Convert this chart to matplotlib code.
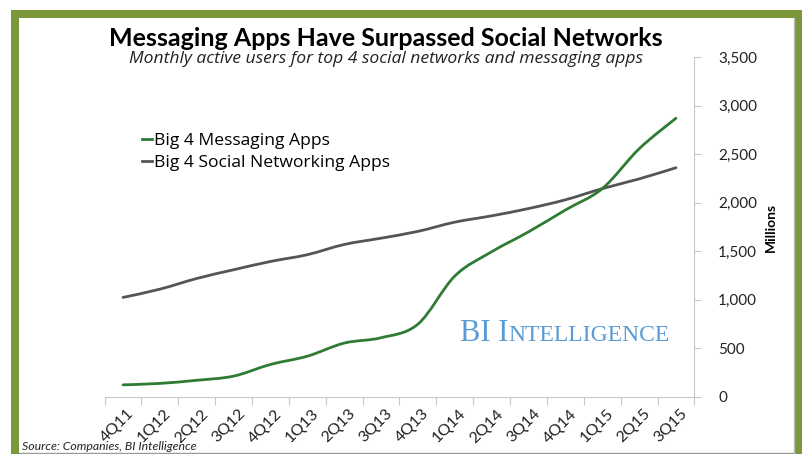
import numpy as np
import matplotlib
matplotlib.use("Agg")
import matplotlib.pyplot as plt
from matplotlib.path import Path
from matplotlib.patches import PathPatch, Rectangle
from matplotlib.lines import Line2D

quarters = ['4Q11', '1Q12', '2Q12', '3Q12', '4Q12', '1Q13', '2Q13', '3Q13',
            '4Q13', '1Q14', '2Q14', '3Q14', '4Q14', '1Q15', '2Q15', '3Q15']
messaging = [125, 140, 172, 215, 335, 420, 555, 610,
             750, 1245, 1495, 1700, 1925, 2145, 2555, 2870]
social = [1025, 1110, 1220, 1310, 1395, 1465, 1570, 1635,
          1705, 1800, 1865, 1940, 2030, 2145, 2245, 2360]
yticks = [0, 500, 1000, 1500, 2000, 2500, 3000, 3500]

GREEN = '#2e7b34'
GREY = '#555555'
FRAME = '#7a983a'
FONT = 'Lato'


def smooth_path(xs, ys):
    # excel style smoothed line: cubic bezier through every point
    pts = np.column_stack([xs, ys]).astype(float)
    n = len(pts)
    verts = [pts[0]]
    codes = [Path.MOVETO]
    for i in range(n - 1):
        p0 = pts[max(i - 1, 0)]
        p1 = pts[i]
        p2 = pts[i + 1]
        p3 = pts[min(i + 2, n - 1)]
        verts += [p1 + (p2 - p0) / 6, p2 - (p3 - p1) / 6, p2]
        codes += [Path.CURVE4] * 3
    return Path(verts, codes)


W, H = 802, 454
fig = plt.figure(figsize=(W / 100, H / 100), dpi=100)
fig.patch.set_facecolor('white')

# green frame
fig.add_artist(Rectangle((11 / W, 0), 8 / W, (H - 10) / H, transform=fig.transFigure, color=FRAME, lw=0))
fig.add_artist(Rectangle((11 / W, (H - 18) / H), (W - 11) / W, 8 / H, transform=fig.transFigure, color=FRAME, lw=0))
fig.add_artist(Rectangle((795 / W, 0), 7 / W, (H - 10) / H, transform=fig.transFigure, color=FRAME, lw=0))
fig.add_artist(Line2D([19 / W, 795 / W], [1.5 / H, 1.5 / H], transform=fig.transFigure, color='#999999', lw=1))
fig.add_artist(Line2D([793.5 / W, 793.5 / W], [1.5 / H, (H - 18) / H], transform=fig.transFigure, color='#bbbbbb', lw=1))

ax = fig.add_axes([104.6 / W, (H - 397) / H, 589.8 / W, 340 / H])
x = np.arange(len(quarters))

ax.add_patch(PathPatch(smooth_path(x, social), fill=False, edgecolor=GREY, lw=2.0, capstyle='round'))
ax.add_patch(PathPatch(smooth_path(x, messaging), fill=False, edgecolor=GREEN, lw=2.0, capstyle='round'))

ax.set_xlim(-0.5, len(quarters) - 0.5)
ax.set_ylim(0, 3500)

for s in ['top', 'left']:
    ax.spines[s].set_visible(False)
ax.spines['right'].set_color('#c8c8c8')
ax.spines['bottom'].set_color('#c8c8c8')

ax.yaxis.tick_right()
ax.set_yticks(yticks)
ax.set_yticklabels([f'{v:,}' for v in yticks], fontsize=11, family=FONT, color='#222222')
ax.tick_params(axis='y', length=5, color='#c8c8c8', pad=12)

ax.set_xticks(np.arange(-0.5, len(quarters), 1.0))
ax.set_xticklabels([])
ax.tick_params(axis='x', length=6, color='#c8c8c8')
for i, q in enumerate(quarters):
    ax.annotate(q, xy=(i, 0), xycoords=('data', 'axes fraction'), xytext=(3, -7),
                textcoords='offset points', rotation=45, ha='right', va='top',
                rotation_mode='anchor', fontsize=11.5, family=FONT, color='#222222')

fig.text(771 / W, 1 - 227 / H, 'Millions', rotation=90, ha='center', va='center',
         fontsize=10, fontweight='bold', family=FONT)

fig.text(386 / W, 1 - 38 / H, 'Messaging Apps Have Surpassed Social Networks',
         ha='center', va='center', fontsize=18, fontweight='bold', family=FONT)
fig.text(386 / W, 1 - 59 / H, 'Monthly active users for top 4 social networks and messaging apps',
         ha='center', va='center', fontsize=12.6, style='italic', family='Open Sans', color='#222222')

handles = [Line2D([], [], color=GREEN, lw=2.0), Line2D([], [], color=GREY, lw=2.0)]
ax.legend(handles, ['Big 4 Messaging Apps', 'Big 4 Social Networking Apps'],
          loc='upper left', bbox_to_anchor=(126 / W, 1 - 117 / H), bbox_transform=fig.transFigure,
          frameon=False, handlelength=0.6, handletextpad=0.1, labelspacing=0.35,
          prop={'family': 'Open Sans', 'size': 12.6})

# watermark in small caps
t1 = fig.text(460 / W, 1 - 341 / H, 'BI I', fontsize=22, family='Liberation Serif', color='#5b9bd5')
fig.canvas.draw()
bb = t1.get_window_extent()
fig.text(bb.x1 / W, 1 - 341 / H, 'NTELLIGENCE', fontsize=17, family='Liberation Serif', color='#5b9bd5')

fig.text(22 / W, 1 - 446 / H, 'Source: Companies, BI Intelligence', ha='left', va='center',
         fontsize=8.8, style='italic', family=FONT, color='#222222')

fig.savefig('out.png', dpi=100)
